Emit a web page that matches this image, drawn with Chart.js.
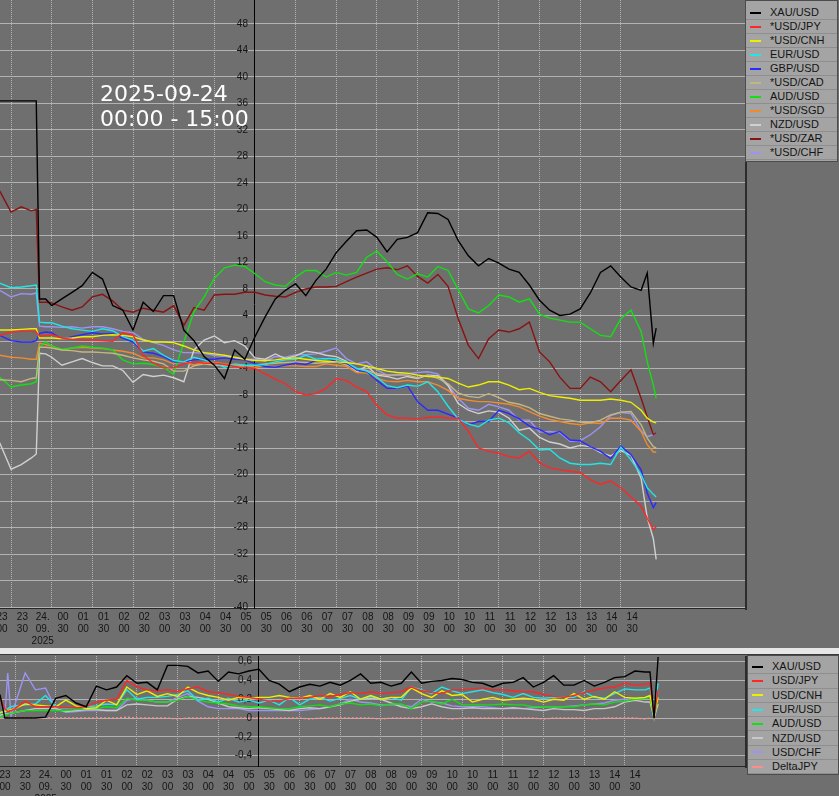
<!DOCTYPE html>
<html><head><meta charset="utf-8">
<script src="https://cdn.jsdelivr.net/npm/chart.js@4.4.1/dist/chart.umd.min.js"></script>
<style>
html,body{margin:0;padding:0;background:#6f6f6f;}
#wrap{position:relative;width:839px;height:796px;overflow:hidden;background:#6f6f6f;font-family:'Liberation Sans',Arial,sans-serif;}
#c1{position:absolute;left:0;top:0;}
#c2{position:absolute;left:0;top:655px;}
#sep{position:absolute;left:0;top:648px;width:839px;height:6px;background:#e6e6e6;}
#sepd{position:absolute;left:0;top:654px;width:839px;height:1px;background:#3a3a3a;}
.legend{position:absolute;background:#a4a4a4;border:1px solid #4c4c4c;box-sizing:border-box;}
.legend .row{height:13px;border-bottom:1px solid #8e8e8e;border-top:0;display:flex;align-items:center;font-size:11px;line-height:13px;color:#141414;white-space:nowrap;}
#leg2 .row{height:13.3px;}
.legend .sw{display:inline-block;width:11px;height:0;border-top:2px solid #000;margin-left:4px;margin-right:9px;}
#title{position:absolute;left:100px;top:81px;color:#fff;font-family:'DejaVu Sans',sans-serif;font-size:22px;line-height:25px;white-space:pre;}
</style></head>
<body>
<div id="wrap">
  <canvas id="c1" width="748" height="648"></canvas>
  <div id="sep"></div><div id="sepd"></div>
  <canvas id="c2" width="748" height="141"></canvas>
  <div id="leg1" class="legend" style="left:745px;top:0px;width:93px;padding-top:5px;padding-bottom:1px;"></div>
  <div id="leg2" class="legend" style="left:747px;top:655px;width:92px;padding-top:4px;"></div>
  <div id="title">2025-09-24
00:00 - 15:00</div>
</div>
<script>
// ---------- DATA (top panel, % change, x = hours after 24.09 00:00) ----------
const times = [-1.28,-1.0,-0.75,-0.5,-0.38,-0.30,-0.15,0,0.25,0.5,0.75,1,1.25,1.5,1.75,2,2.25,2.5,2.75,3,3.25,3.5,3.75,4,4.25,4.5,4.75,5,5.25,5.5,5.75,6,6.25,6.5,6.75,7,7.25,7.5,7.75,8,8.25,8.5,8.75,9,9.25,9.5,9.75,10,10.25,10.5,10.75,11,11.25,11.5,11.75,12,12.25,12.5,12.75,13,13.25,13.5,13.75,14,14.25,14.5,14.65,14.8,14.87];
const xauUsd = [36.4,36.4,36.4,36.4,36.4,6.5,6.5,5.5,6.5,7.5,8.5,10.5,9.5,5.5,4.8,1.8,6,4.6,7,7,1.8,0.2,-2.2,-3.5,-5.5,-1.2,-2.6,0.8,3.8,6.5,7.8,8.8,7,9.3,11,13.5,15.2,16.8,16.9,15.8,13.6,15.5,15.8,16.5,19.5,19.4,18.5,15.3,13,11.5,12.6,11.9,11,10.5,8.6,6.3,4.8,4,4.2,5,7.4,10.5,11.5,9.8,8.3,7.8,10.4,-0.2,2.1];
const usdJpy = [1,1.5,1.6,1.6,1.5,0.9,1,1.1,0.6,0.4,0.3,0.3,0.2,0.1,1.4,1.1,-2,-3.2,-3.9,-3.9,-3.3,-3,-3.2,-3.2,-3.4,-3.7,-3.9,-4,-4.8,-5.6,-6.3,-7.5,-8,-7.8,-7,-5.6,-5.8,-6.8,-7.5,-9.6,-11,-11.5,-11.5,-11.6,-11.4,-11.3,-11.5,-11.5,-13.5,-16,-16.5,-16.8,-17.3,-17.5,-16.5,-18.2,-19,-19.3,-19.5,-19.7,-20.8,-21.5,-21,-22,-23.4,-24.8,-26.6,-28.3,-27.9];
const usdCnh = [1.8,1.8,1.9,2,2,0.6,0.6,0.6,0.5,0.6,0.8,0.8,1,1.1,1,0.8,0.3,0,0,-0.1,-0.6,-1.2,-1.6,-1.8,-2,-2.3,-2.6,-2.8,-2.8,-2.7,-2.5,-2.4,-2.6,-2.8,-2.9,-3,-3.1,-3.3,-3.6,-4,-4.4,-4.6,-4.7,-5,-5.2,-5.3,-5.5,-6.2,-6.8,-6.5,-6,-6,-6.5,-7.2,-7,-7.6,-8.1,-8.3,-8.5,-8.8,-8.8,-8.8,-8.6,-8.8,-9.1,-10.3,-11.5,-12.1,-12.2];
const eurUsd = [8.9,8.2,8.3,8.5,8.6,3,2.9,2.9,2.4,2,1.8,1.6,2,1.7,0.8,0.3,-1.4,-1,-2,-2.8,-3,-2.3,-2.7,-3.2,-3.8,-3.3,-3.5,-3.5,-3.4,-3,-2.7,-2.6,-2,-2.6,-2.5,-2.6,-3,-4,-4.4,-5.3,-6.6,-6.9,-6.5,-6.7,-6,-7.5,-9.7,-11.6,-12.4,-12.8,-11.8,-11.5,-12.2,-13.7,-14.8,-16.3,-16.2,-17.5,-18.3,-18.5,-18.5,-18.3,-18.5,-15.9,-17.8,-20,-22,-23,-23.4];
const gbpUsd = [1,0.2,0,0,0.2,1.3,1.5,1.4,0.4,0.8,1.1,1.4,1.2,1.3,0.6,0,-1.5,-1.7,-2.2,-3,-3,-2.7,-2.6,-2.6,-2.4,-2.6,-2.7,-3.3,-3.7,-3.8,-3.5,-3.2,-3.4,-2.8,-2.4,-3,-3.2,-4.2,-4.5,-5.8,-7,-7,-6.6,-9,-10.3,-10.3,-10.9,-11.5,-12.5,-12,-12,-10.3,-10.8,-11.6,-12.7,-13.2,-14,-13.5,-14.8,-14.9,-15.8,-16.5,-17.6,-15.7,-17,-19.3,-22.8,-25,-24.2];
const usdCad = [-5.7,-5.8,-6,-5.5,-5.4,-0.8,-0.8,-0.9,-1.2,-1.3,-1.5,-1.5,-1.6,-1.7,-2,-2.4,-2.7,-2.9,-3.3,-4.4,-4.4,-3.6,-3.3,-3.5,-3.5,-3.7,-3.6,-3.5,-3.3,-3.2,-3.1,-3,-3.1,-3.2,-3.1,-3,-3.5,-4,-4.3,-4.8,-5,-5,-5,-5.4,-5,-5.5,-6.3,-7.7,-8.2,-8.4,-7.8,-8.4,-9.1,-9.4,-9.9,-10.8,-11.2,-11.6,-11.8,-12.1,-12.2,-11.8,-11,-10.6,-10.5,-12.5,-14.5,-15.8,-16];
const audUsd = [-5.3,-6.8,-6.5,-6.3,-6,-0.8,0,-0.6,-1.1,-0.9,-0.6,-0.8,-0.9,-1.2,-2.7,-3.3,-3.2,-3.4,-3.8,-4.9,0,4.6,6.8,9.6,11.2,11.6,11.4,10.3,9.1,8.6,8.4,9.8,10.8,10.8,9.8,10.5,10.1,10.5,12.8,13.7,12.1,10.2,9.5,10.3,9.8,11.4,10.8,7.9,5,4.4,5.5,7.1,6.8,6,6.5,4.2,3.6,3.3,3,3,2,1,0.8,3.5,4.8,1.6,-3,-6.5,-8.5];
const usdSgd = [-2,-2.3,-2.4,-2.6,-2.6,-0.2,-0.4,-0.6,-1.2,-0.9,-0.8,-0.9,-1,-1.2,-1.4,-1.7,-2.4,-2.4,-2.7,-3.3,-3,-3.5,-3.1,-3.1,-3.3,-3.5,-3.5,-3.8,-3.6,-3.7,-3.6,-3.6,-3.7,-3.7,-3.3,-3.5,-3.7,-4.6,-4.7,-5.5,-5.9,-6,-5.8,-6,-6,-6.5,-7.3,-8.5,-8.8,-9,-9,-9.2,-9.4,-9.8,-10.5,-11.2,-11.7,-12,-12.3,-12.5,-12.2,-12.3,-11.5,-11.5,-11.8,-13.5,-15.5,-16.6,-16.6];
const nzdUsd = [-15.2,-19.2,-18.5,-17.5,-16.9,-1.7,-1.8,-2.3,-3.5,-3,-2.5,-3.1,-3.6,-3.6,-4.3,-6.1,-4.9,-5.2,-5,-5.4,-6,-1.2,0.3,0.9,-0.1,0.2,-0.6,-2.4,-2.6,-1.8,-2.5,-2.1,-1.4,-1.6,-2,-2.2,-2.9,-4.5,-3.6,-5,-5.2,-5.6,-5.2,-5.5,-5,-5.1,-6.6,-9.3,-10.3,-10.8,-10.4,-10.6,-11.5,-13.3,-13,-14.4,-15.1,-15.4,-16,-15.6,-15.8,-16.7,-17.2,-16.4,-17.1,-20.6,-26.5,-29.7,-32.8];
const usdZar = [22.8,19.6,20.4,19.8,20,6,6,5.9,5.3,4.8,5.3,6.8,7.2,6.2,4.8,4.5,5.1,4.8,4.5,5.5,2.5,5.2,4.8,7.1,7.2,7.2,7.5,7.5,7.1,6.9,6.8,7.5,8,8.3,8.3,8.4,9.1,9.8,10.4,11,11.2,10.9,11.5,9.9,8.9,10.2,8.4,3.5,-0.5,-2.5,0.5,1.8,1.5,2,3,-1.5,-3,-5.3,-7,-7,-5.3,-6,-7.5,-5.8,-4.2,-8.5,-11.3,-14,-13.7];
const usdChf = [7.8,6.8,7.3,7.2,7.4,2.4,2.3,2.3,2.2,2.3,2.1,2.3,2.3,2,1.6,1.4,0.4,-0.1,-0.5,-1.2,-1.6,-1.6,-1.7,-2,-2.2,-2.4,-2.6,-2.6,-2.9,-2.2,-2.3,-1.9,-1.9,-1.8,-1.4,-0.9,-2.5,-3.3,-3,-4.2,-5,-4.9,-4.8,-4.6,-4.5,-4.8,-6.5,-8.5,-10,-10.3,-9.4,-9.8,-10.3,-11.8,-11.8,-13.6,-13.5,-13.7,-15,-14.9,-14,-12.8,-11.1,-10.6,-10.8,-13.4,-14.3,-14,-13.7];

const topNames  = ['XAU/USD','*USD/JPY','*USD/CNH','EUR/USD','GBP/USD','*USD/CAD','AUD/USD','*USD/SGD','NZD/USD','*USD/ZAR','*USD/CHF'];
const topSeries = [xauUsd,usdJpy,usdCnh,eurUsd,gbpUsd,usdCad,audUsd,usdSgd,nzdUsd,usdZar,usdChf];

// ---------- DATA (bottom panel) ----------
const subTimes = [-1.37,-1.25,-1.18,-1.1,-1.0,-0.75,-0.5,-0.25,0,0.25,0.5,0.75,1,1.25,1.5,1.75,2,2.25,2.5,2.75,3,3.25,3.5,3.75,4,4.25,4.5,4.75,5,5.25,5.5,5.75,6,6.25,6.5,6.75,7,7.25,7.5,7.75,8,8.25,8.5,8.75,9,9.25,9.5,9.75,10,10.25,10.5,10.75,11,11.25,11.5,11.75,12,12.25,12.5,12.75,13,13.25,13.5,13.75,14,14.25,14.5,14.62,14.72,14.82];
const subXau = [0.25,0,0,0,0,0,0,0.01,0.21,0.24,0.16,0.12,0.34,0.3,0.33,0.45,0.37,0.38,0.3,0.56,0.56,0.55,0.48,0.5,0.39,0.49,0.47,0.5,0.52,0.4,0.36,0.28,0.33,0.36,0.34,0.38,0.35,0.4,0.47,0.37,0.38,0.34,0.37,0.49,0.37,0.39,0.4,0.42,0.41,0.38,0.37,0.33,0.37,0.38,0.43,0.33,0.38,0.45,0.35,0.35,0.4,0.34,0.38,0.43,0.44,0.5,0.49,0.49,0,0.65];
const subJpy = [0.21,0.1,0.07,0.08,0.1,0.18,0.12,0.12,0.12,0.11,0.11,0.12,0.17,0.19,0.2,0.4,0.33,0.3,0.29,0.3,0.28,0.31,0.33,0.28,0.27,0.25,0.23,0.22,0.2,0.18,0.18,0.21,0.21,0.22,0.24,0.23,0.25,0.27,0.26,0.28,0.26,0.27,0.28,0.33,0.29,0.27,0.26,0.3,0.3,0.31,0.32,0.3,0.3,0.29,0.28,0.28,0.25,0.23,0.22,0.24,0.27,0.3,0.32,0.33,0.37,0.35,0.36,0.37,0.02,0.3];
const subCnh = [0.06,0.07,0.08,0.09,0.1,0.15,0.14,0.13,0.12,0.19,0.13,0.1,0.11,0.19,0.14,0.33,0.25,0.29,0.23,0.26,0.23,0.33,0.27,0.24,0.22,0.19,0.22,0.21,0.22,0.22,0.24,0.22,0.21,0.24,0.2,0.26,0.22,0.28,0.2,0.24,0.2,0.22,0.22,0.32,0.26,0.22,0.29,0.24,0.25,0.17,0.2,0.22,0.19,0.2,0.21,0.2,0.17,0.2,0.19,0.26,0.2,0.23,0.2,0.28,0.22,0.21,0.22,0.24,0.05,0.22];
const subEur = [0.05,0.08,0.1,0.12,0.13,0.14,0.15,0.24,0.12,0.1,0.11,0.12,0.13,0.15,0.14,0.3,0.2,0.22,0.22,0.23,0.25,0.29,0.19,0.21,0.17,0.21,0.17,0.19,0.16,0.19,0.14,0.22,0.14,0.2,0.22,0.18,0.21,0.24,0.2,0.23,0.2,0.22,0.19,0.33,0.3,0.26,0.33,0.29,0.26,0.28,0.3,0.27,0.25,0.22,0.26,0.22,0.21,0.22,0.22,0.22,0.28,0.22,0.21,0.26,0.31,0.3,0.3,0.32,0.05,0.37];
const subAud = [0.01,0.03,0.04,0.05,0.06,0.08,0.08,0.08,0.08,0.08,0.09,0.1,0.1,0.12,0.11,0.21,0.19,0.19,0.17,0.17,0.19,0.23,0.19,0.17,0.16,0.15,0.13,0.12,0.12,0.11,0.1,0.1,0.12,0.13,0.14,0.12,0.15,0.16,0.14,0.15,0.13,0.15,0.15,0.1,0.17,0.18,0.15,0.2,0.14,0.14,0.14,0.14,0.15,0.14,0.14,0.12,0.12,0.12,0.12,0.12,0.14,0.15,0.14,0.17,0.18,0.2,0.21,0.22,0.01,0.22];
const subNzd = [0.03,0.04,0.05,0.05,0.06,0.08,0.1,0.1,0.1,0.07,0.08,0.09,0.09,0.08,0.08,0.14,0.15,0.14,0.13,0.13,0.2,0.23,0.22,0.2,0.16,0.12,0.11,0.1,0.11,0.1,0.09,0.08,0.1,0.11,0.1,0.12,0.14,0.18,0.2,0.21,0.2,0.16,0.12,0.1,0.12,0.15,0.12,0.1,0.1,0.11,0.1,0.1,0.1,0.11,0.1,0.09,0.08,0.1,0.09,0.09,0.08,0.1,0.1,0.12,0.17,0.19,0.17,0.17,0,0.15];
const subChf = [0.01,0.02,0.48,0.02,0.15,0.48,0.3,0.32,0.1,0.06,0.07,0.08,0.08,0.08,0.08,0.19,0.21,0.19,0.17,0.17,0.22,0.26,0.18,0.12,0.1,0.1,0.1,0.08,0.08,0.08,0.08,0.08,0.08,0.09,0.1,0.12,0.15,0.2,0.17,0.16,0.14,0.14,0.14,0.12,0.2,0.17,0.16,0.13,0.12,0.12,0.12,0.11,0.1,0.1,0.1,0.11,0.12,0.12,0.12,0.13,0.14,0.15,0.16,0.19,0.2,0.2,0.22,0.23,0,0.3];
const subDeltaJpy = [0,0,0,0,0,0,0,0,0,0,0,0,0,0,0,0.01,0,0,0,0,-0.01,0,0,0,0,0,0,0,0,0,0,0,0,-0.01,0,0,0,0,0,0,-0.01,0,0,0,0,0,0,-0.01,0,0,0,0,0,0,0,0,-0.01,0,0,0,0,-0.01,0,0,0,0,-0.01,0,null,null];

const subNames  = ['XAU/USD','USD/JPY','USD/CNH','EUR/USD','AUD/USD','NZD/USD','USD/CHF','DeltaJPY'];
const subSeries = [subXau,subJpy,subCnh,subEur,subAud,subNzd,subChf,subDeltaJpy];

// ---------- TICKS ----------
const xTickValues = [-1,-0.5,0,0.5,1,1.5,2,2.5,3,3.5,4,4.5,5,5.5,6,6.5,7,7.5,8,8.5,9,9.5,10,10.5,11,11.5,12,12.5,13,13.5,14,14.5];
const xTickLabels = [['23','00'],['23','30'],['24.','09.','2025'],['00','30'],['01','00'],['01','30'],['02','00'],['02','30'],['03','00'],['03','30'],['04','00'],['04','30'],['05','00'],['05','30'],['06','00'],['06','30'],['07','00'],['07','30'],['08','00'],['08','30'],['09','00'],['09','30'],['10','00'],['10','30'],['11','00'],['11','30'],['12','00'],['12','30'],['13','00'],['13','30'],['14','00'],['14','30']];
const yTickValues = [-40,-36,-32,-28,-24,-20,-16,-12,-8,-4,0,4,8,12,16,20,24,28,32,36,40,44,48];
const subYTickValues = [-0.4,-0.2,0,0.2,0.4,0.6];
const subYTickLabels = ['-0,4','-0,2','0','0,2','0,4','0,6'];

// ---------- STYLES ----------
const topColors = ['#000000','#ff2626','#eeee00','#22e6e6','#2a2aff','#c4b680','#12e012','#f08a2e','#d0d0d0','#8a1212','#9c94f2'];
const subColors = ['#000000','#ff2626','#eeee00','#22e6e6','#12e012','#c8c8c8','#9c94f2','#ff8c8c'];
const GRID = '#b2b2b2';
const TICKFONT = {family:"'Liberation Sans', Arial, sans-serif", size:10};
const GAP = '\u2002\u2009';

const framePlugin = {
  id:'frame',
  afterDraw(chart){
    const {ctx, chartArea:a} = chart;
    ctx.save();
    ctx.fillStyle = '#2c2c2c';
    ctx.fillRect(a.right, a.top, 2, a.bottom - a.top + 2);
    ctx.restore();
  }
};

function xScale(min, max, height, offset){
  return {
    type:'linear', position:'bottom', min:min, max:max,
    afterBuildTicks(s){ s.ticks = xTickValues.map(v => ({value:v})); },
    afterFit(s){ s.height = height; s.paddingLeft = 0; s.paddingRight = 0; },
    ticks:{ autoSkip:false, maxRotation:0, minRotation:0, padding:3, labelOffset:offset,
      color:'#141414', font:TICKFONT, lineHeight:1.1,
      callback:(v,i) => xTickLabels[i] },
    grid:{ drawTicks:false, lineWidth:1,
      color:(c) => (c.tick && Number.isInteger(c.tick.value)) ? GRID : 'rgba(0,0,0,0)' },
    border:{ display:true, color:'#262626', width:1, dash:[1,1] }
  };
}

function yScale(min, max, values, labelFn){
  return {
    type:'linear', position:{x:5}, min:min, max:max,
    afterBuildTicks(s){ s.ticks = values.map(v => ({value:v})); },
    afterFit(s){ s.paddingTop = 0; s.paddingBottom = 0; s.paddingLeft = 0; s.paddingRight = 0; },
    ticks:{ color:'#141414', font:TICKFONT, padding:0, callback:labelFn },
    grid:{ drawTicks:false, color:GRID, lineWidth:1 },
    border:{ display:true, color:'#000000', width:1 }
  };
}

function mkData(ts, arr){ return ts.map((t,i) => ({x:t, y:arr[i]})); }

const common = {
  responsive:false, animation:false, devicePixelRatio:1,
  plugins:{ legend:{display:false}, tooltip:{enabled:false} },
  elements:{ point:{radius:0}, line:{tension:0, borderWidth:1.4} },
  events:[]
};

new Chart(document.getElementById('c1'), {
  type:'line',
  data:{ datasets: topSeries.map((arr,k) => ({
    label: topNames[k], data: mkData(times, arr),
    borderColor: topColors[k], backgroundColor: topColors[k], fill:false
  })) },
  options: Object.assign({}, common, {
    layout:{ padding:{left:0, right:3, top:0, bottom:0} },
    scales:{
      x: xScale(-1.272, 17.055, 40, -9),
      y: yScale(-40.15, 51.62, yTickValues, v => String(v) + GAP)
    }
  }),
  plugins:[framePlugin]
});

new Chart(document.getElementById('c2'), {
  type:'line',
  data:{ datasets: subSeries.map((arr,k) => ({
    label: subNames[k], data: mkData(subTimes, arr),
    borderColor: subColors[k], backgroundColor: subColors[k], fill:false,
    borderDash: subNames[k] === 'DeltaJPY' ? [2,2] : [], spanGaps:false
  })) },
  options: Object.assign({}, common, {
    layout:{ padding:{left:0, right:3, top:1, bottom:0} },
    scales:{
      x: xScale(-1.370, 16.957, 30, -10),
      y: yScale(-0.51, 0.66, subYTickValues, (v,i) => subYTickLabels[i] + GAP)
    }
  }),
  plugins:[framePlugin]
});

function buildLegend(id, names, colors){
  const el = document.getElementById(id);
  names.forEach((n,k) => {
    const row = document.createElement('div'); row.className = 'row';
    const sw = document.createElement('span'); sw.className = 'sw';
    sw.style.borderTopColor = colors[k];
    if (n === 'DeltaJPY') sw.style.borderTopStyle = 'dashed';
    const tx = document.createElement('span'); tx.textContent = n;
    row.appendChild(sw); row.appendChild(tx); el.appendChild(row);
  });
}
buildLegend('leg1', topNames, topColors);
buildLegend('leg2', subNames, subColors);
</script>
</body></html>
